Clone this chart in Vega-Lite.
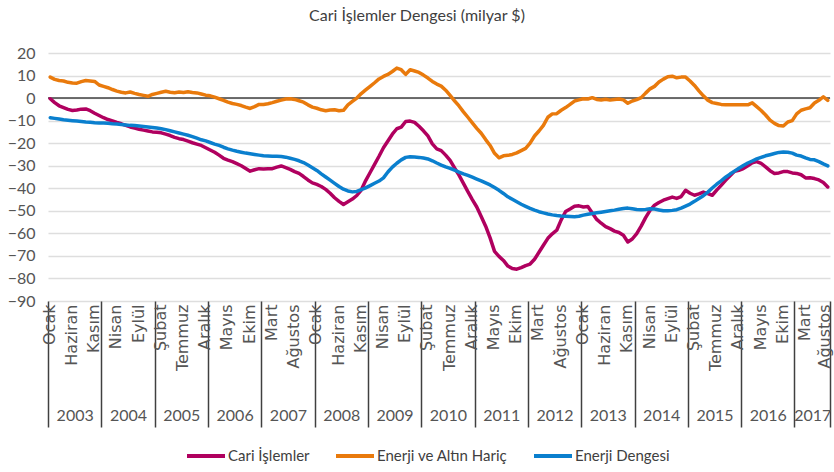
{
  "$schema": "https://vega.github.io/schema/vega-lite/v6.json",
  "width": 782,
  "height": 248,
  "autosize": "none",
  "padding": {"left": 48, "top": 53, "right": 4, "bottom": 171},
  "background": "white",
  "title": {
    "text": "Cari İşlemler Dengesi (milyar $)",
    "font": "Lato",
    "fontSize": 16,
    "fontWeight": "normal",
    "color": "#404040",
    "anchor": "middle",
    "offset": 21,
    "dx": -22
  },
  "datasets": {
    "yillar": [
      {"yil": "2003", "bas": -0.5, "orta": 5.5},
      {"yil": "2004", "bas": 11.5, "orta": 17.5},
      {"yil": "2005", "bas": 23.5, "orta": 29.5},
      {"yil": "2006", "bas": 35.5, "orta": 41.5},
      {"yil": "2007", "bas": 47.5, "orta": 53.5},
      {"yil": "2008", "bas": 59.5, "orta": 65.5},
      {"yil": "2009", "bas": 71.5, "orta": 77.5},
      {"yil": "2010", "bas": 83.5, "orta": 89.5},
      {"yil": "2011", "bas": 95.5, "orta": 101.5},
      {"yil": "2012", "bas": 107.5, "orta": 113.5},
      {"yil": "2013", "bas": 119.5, "orta": 125.5},
      {"yil": "2014", "bas": 131.5, "orta": 137.5},
      {"yil": "2015", "bas": 143.5, "orta": 149.5},
      {"yil": "2016", "bas": 155.5, "orta": 161.5},
      {"yil": "2017", "bas": 167.5, "orta": 171.5}
    ]
  },
  "config": {
    "view": {"stroke": null},
    "axis": {
      "labelFont": "Lato",
      "labelColor": "#555555",
      "title": null
    },
    "legend": {
      "title": null,
      "labelFont": "Lato",
      "labelFontSize": 15,
      "labelColor": "#404040",
      "symbolType": "stroke",
      "symbolSize": 1444,
      "symbolStrokeWidth": 4,
      "labelOffset": 1,
      "columnPadding": 18,
      "padding": 0
    }
  },
  "resolve": {"axis": {"x": "independent"}},
  "layer": [
    {
      "data": {"name": "yillar"},
      "mark": {"type": "rule", "strokeOpacity": 0},
      "encoding": {
        "x": {
          "field": "bas", "type": "quantitative",
          "scale": {"domain": [-0.5, 175.5], "nice": false, "zero": false},
          "axis": {
            "orient": "bottom",
            "values": [-0.5, 11.5, 23.5, 35.5, 47.5, 59.5, 71.5, 83.5, 95.5, 107.5, 119.5, 131.5, 143.5, 155.5, 167.5, 175.5],
            "labels": false, "grid": false, "domain": false,
            "ticks": true, "tickSize": 126, "tickColor": "#404040", "tickWidth": 1.5
          }
        }
      }
    },
    {
      "data": {"name": "yillar"},
      "mark": {"type": "rule", "strokeOpacity": 0},
      "encoding": {
        "x": {
          "field": "orta", "type": "quantitative",
          "scale": {"domain": [-0.5, 175.5], "nice": false, "zero": false},
          "axis": {
            "orient": "bottom",
            "values": [5.5, 17.5, 29.5, 41.5, 53.5, 65.5, 77.5, 89.5, 101.5, 113.5, 125.5, 137.5, 149.5, 161.5, 171.5],
            "labelExpr": "floor(datum.value / 12) + 2003",
            "labelFontSize": 16, "labelPadding": 106, "labelAngle": 0,
            "grid": false, "domain": false, "ticks": false
          }
        }
      }
    },
    {
      "data": {"values": [{"sifir": 0}]},
      "mark": {"type": "rule", "color": "#404040", "strokeWidth": 1.5},
      "encoding": {
        "y": {
          "field": "sifir", "type": "quantitative",
          "scale": {"domain": [-90, 20], "nice": false, "zero": false},
          "axis": {
            "values": [20, 10, 0, -10, -20, -30, -40, -50, -60, -70, -80, -90],
            "labelFontSize": 16, "labelPadding": 13,
            "grid": true, "gridColor": "#dedede", "gridWidth": 1.5,
            "domain": false, "ticks": false
          }
        }
      }
    },
    {
      "data": {"values": [
{"ay":0,"Cari İşlemler":-0.3,"Enerji ve Altın Hariç":9.3,"Enerji Dengesi":-8.7},
{"ay":1,"Cari İşlemler":-2.0,"Enerji ve Altın Hariç":8.3,"Enerji Dengesi":-9.0},
{"ay":2,"Cari İşlemler":-3.4,"Enerji ve Altın Hariç":7.8,"Enerji Dengesi":-9.3},
{"ay":3,"Cari İşlemler":-4.2,"Enerji ve Altın Hariç":7.6,"Enerji Dengesi":-9.6},
{"ay":4,"Cari İşlemler":-5.0,"Enerji ve Altın Hariç":7.0,"Enerji Dengesi":-9.8},
{"ay":5,"Cari İşlemler":-5.5,"Enerji ve Altın Hariç":6.7,"Enerji Dengesi":-10.0},
{"ay":6,"Cari İşlemler":-5.3,"Enerji ve Altın Hariç":6.6,"Enerji Dengesi":-10.2},
{"ay":7,"Cari İşlemler":-4.9,"Enerji ve Altın Hariç":7.3,"Enerji Dengesi":-10.4},
{"ay":8,"Cari İşlemler":-4.8,"Enerji ve Altın Hariç":7.8,"Enerji Dengesi":-10.6},
{"ay":9,"Cari İşlemler":-5.6,"Enerji ve Altın Hariç":7.6,"Enerji Dengesi":-10.7},
{"ay":10,"Cari İşlemler":-6.7,"Enerji ve Altın Hariç":7.4,"Enerji Dengesi":-10.9},
{"ay":11,"Cari İşlemler":-7.7,"Enerji ve Altın Hariç":5.8,"Enerji Dengesi":-11.0},
{"ay":12,"Cari İşlemler":-8.7,"Enerji ve Altın Hariç":5.2,"Enerji Dengesi":-11.1},
{"ay":13,"Cari İşlemler":-9.5,"Enerji ve Altın Hariç":4.6,"Enerji Dengesi":-11.2},
{"ay":14,"Cari İşlemler":-10.1,"Enerji ve Altın Hariç":3.8,"Enerji Dengesi":-11.4},
{"ay":15,"Cari İşlemler":-10.8,"Enerji ve Altın Hariç":3.1,"Enerji Dengesi":-11.5},
{"ay":16,"Cari İşlemler":-11.4,"Enerji ve Altın Hariç":2.6,"Enerji Dengesi":-11.7},
{"ay":17,"Cari İşlemler":-12.1,"Enerji ve Altın Hariç":2.3,"Enerji Dengesi":-11.9},
{"ay":18,"Cari İşlemler":-12.8,"Enerji ve Altın Hariç":2.7,"Enerji Dengesi":-12.1},
{"ay":19,"Cari İşlemler":-13.3,"Enerji ve Altın Hariç":2.1,"Enerji Dengesi":-12.2},
{"ay":20,"Cari İşlemler":-13.8,"Enerji ve Altın Hariç":1.6,"Enerji Dengesi":-12.4},
{"ay":21,"Cari İşlemler":-14.2,"Enerji ve Altın Hariç":1.2,"Enerji Dengesi":-12.6},
{"ay":22,"Cari İşlemler":-14.6,"Enerji ve Altın Hariç":0.8,"Enerji Dengesi":-12.8},
{"ay":23,"Cari İşlemler":-15.0,"Enerji ve Altın Hariç":1.6,"Enerji Dengesi":-13.0},
{"ay":24,"Cari İşlemler":-15.2,"Enerji ve Altın Hariç":2.1,"Enerji Dengesi":-13.3},
{"ay":25,"Cari İşlemler":-15.4,"Enerji ve Altın Hariç":2.6,"Enerji Dengesi":-13.6},
{"ay":26,"Cari İşlemler":-16.0,"Enerji ve Altın Hariç":3.0,"Enerji Dengesi":-14.0},
{"ay":27,"Cari İşlemler":-16.6,"Enerji ve Altın Hariç":2.6,"Enerji Dengesi":-14.5},
{"ay":28,"Cari İşlemler":-17.4,"Enerji ve Altın Hariç":2.4,"Enerji Dengesi":-15.0},
{"ay":29,"Cari İşlemler":-18.0,"Enerji ve Altın Hariç":2.7,"Enerji Dengesi":-15.5},
{"ay":30,"Cari İşlemler":-18.4,"Enerji ve Altın Hariç":2.5,"Enerji Dengesi":-16.0},
{"ay":31,"Cari İşlemler":-19.1,"Enerji ve Altın Hariç":2.8,"Enerji Dengesi":-16.5},
{"ay":32,"Cari İşlemler":-19.8,"Enerji ve Altın Hariç":2.5,"Enerji Dengesi":-17.1},
{"ay":33,"Cari İşlemler":-20.4,"Enerji ve Altın Hariç":2.3,"Enerji Dengesi":-17.8},
{"ay":34,"Cari İşlemler":-21.0,"Enerji ve Altın Hariç":1.8,"Enerji Dengesi":-18.5},
{"ay":35,"Cari İşlemler":-22.0,"Enerji ve Altın Hariç":1.3,"Enerji Dengesi":-19.0},
{"ay":36,"Cari İşlemler":-23.0,"Enerji ve Altın Hariç":1.0,"Enerji Dengesi":-19.7},
{"ay":37,"Cari İşlemler":-24.0,"Enerji ve Altın Hariç":0.4,"Enerji Dengesi":-20.4},
{"ay":38,"Cari İşlemler":-25.3,"Enerji ve Altın Hariç":-0.3,"Enerji Dengesi":-21.0},
{"ay":39,"Cari İşlemler":-26.7,"Enerji ve Altın Hariç":-1.0,"Enerji Dengesi":-21.8},
{"ay":40,"Cari İşlemler":-27.5,"Enerji ve Altın Hariç":-1.8,"Enerji Dengesi":-22.5},
{"ay":41,"Cari İşlemler":-28.2,"Enerji ve Altın Hariç":-2.4,"Enerji Dengesi":-23.1},
{"ay":42,"Cari İşlemler":-29.1,"Enerji ve Altın Hariç":-2.8,"Enerji Dengesi":-23.6},
{"ay":43,"Cari İşlemler":-30.0,"Enerji ve Altın Hariç":-3.3,"Enerji Dengesi":-24.0},
{"ay":44,"Cari İşlemler":-31.2,"Enerji ve Altın Hariç":-4.0,"Enerji Dengesi":-24.4},
{"ay":45,"Cari İşlemler":-32.4,"Enerji ve Altın Hariç":-4.6,"Enerji Dengesi":-24.7},
{"ay":46,"Cari İşlemler":-31.8,"Enerji ve Altın Hariç":-3.8,"Enerji Dengesi":-25.0},
{"ay":47,"Cari İşlemler":-31.3,"Enerji ve Altın Hariç":-2.8,"Enerji Dengesi":-25.3},
{"ay":48,"Cari İşlemler":-31.4,"Enerji ve Altın Hariç":-2.8,"Enerji Dengesi":-25.6},
{"ay":49,"Cari İşlemler":-31.3,"Enerji ve Altın Hariç":-2.5,"Enerji Dengesi":-25.7},
{"ay":50,"Cari İşlemler":-31.3,"Enerji ve Altın Hariç":-2.0,"Enerji Dengesi":-25.8},
{"ay":51,"Cari İşlemler":-30.6,"Enerji ve Altın Hariç":-1.4,"Enerji Dengesi":-25.8},
{"ay":52,"Cari İşlemler":-30.1,"Enerji ve Altın Hariç":-0.9,"Enerji Dengesi":-25.9},
{"ay":53,"Cari İşlemler":-30.8,"Enerji ve Altın Hariç":-0.4,"Enerji Dengesi":-26.2},
{"ay":54,"Cari İşlemler":-31.6,"Enerji ve Altın Hariç":-0.3,"Enerji Dengesi":-26.7},
{"ay":55,"Cari İşlemler":-32.6,"Enerji ve Altın Hariç":-0.6,"Enerji Dengesi":-27.2},
{"ay":56,"Cari İşlemler":-33.4,"Enerji ve Altın Hariç":-1.2,"Enerji Dengesi":-27.8},
{"ay":57,"Cari İşlemler":-34.8,"Enerji ve Altın Hariç":-1.8,"Enerji Dengesi":-28.6},
{"ay":58,"Cari İşlemler":-36.3,"Enerji ve Altın Hariç":-3.0,"Enerji Dengesi":-29.7},
{"ay":59,"Cari İşlemler":-37.6,"Enerji ve Altın Hariç":-4.0,"Enerji Dengesi":-30.9},
{"ay":60,"Cari İşlemler":-38.3,"Enerji ve Altın Hariç":-4.5,"Enerji Dengesi":-32.1},
{"ay":61,"Cari İşlemler":-39.2,"Enerji ve Altın Hariç":-5.2,"Enerji Dengesi":-33.6},
{"ay":62,"Cari İşlemler":-40.5,"Enerji ve Altın Hariç":-5.6,"Enerji Dengesi":-35.0},
{"ay":63,"Cari İşlemler":-42.2,"Enerji ve Altın Hariç":-5.3,"Enerji Dengesi":-36.4},
{"ay":64,"Cari İşlemler":-44.2,"Enerji ve Altın Hariç":-5.2,"Enerji Dengesi":-37.8},
{"ay":65,"Cari İşlemler":-45.8,"Enerji ve Altın Hariç":-5.6,"Enerji Dengesi":-39.2},
{"ay":66,"Cari İşlemler":-47.2,"Enerji ve Altın Hariç":-5.4,"Enerji Dengesi":-40.4},
{"ay":67,"Cari İşlemler":-46.0,"Enerji ve Altın Hariç":-3.0,"Enerji Dengesi":-41.2},
{"ay":68,"Cari İşlemler":-44.8,"Enerji ve Altın Hariç":-1.5,"Enerji Dengesi":-41.6},
{"ay":69,"Cari İşlemler":-43.2,"Enerji ve Altın Hariç":0.0,"Enerji Dengesi":-41.4},
{"ay":70,"Cari İşlemler":-40.8,"Enerji ve Altın Hariç":2.0,"Enerji Dengesi":-40.6},
{"ay":71,"Cari İşlemler":-36.6,"Enerji ve Altın Hariç":3.6,"Enerji Dengesi":-39.8},
{"ay":72,"Cari İşlemler":-33.0,"Enerji ve Altın Hariç":5.2,"Enerji Dengesi":-38.8},
{"ay":73,"Cari İşlemler":-29.4,"Enerji ve Altın Hariç":6.8,"Enerji Dengesi":-37.8},
{"ay":74,"Cari İşlemler":-25.8,"Enerji ve Altın Hariç":8.5,"Enerji Dengesi":-36.8},
{"ay":75,"Cari İşlemler":-22.0,"Enerji ve Altın Hariç":9.6,"Enerji Dengesi":-35.4},
{"ay":76,"Cari İşlemler":-19.0,"Enerji ve Altın Hariç":10.5,"Enerji Dengesi":-32.8},
{"ay":77,"Cari İşlemler":-16.0,"Enerji ve Altın Hariç":11.8,"Enerji Dengesi":-30.6},
{"ay":78,"Cari İşlemler":-13.6,"Enerji ve Altın Hariç":13.3,"Enerji Dengesi":-28.9},
{"ay":79,"Cari İşlemler":-12.9,"Enerji ve Altın Hariç":12.6,"Enerji Dengesi":-27.4},
{"ay":80,"Cari İşlemler":-10.4,"Enerji ve Altın Hariç":10.5,"Enerji Dengesi":-26.3},
{"ay":81,"Cari İşlemler":-10.2,"Enerji ve Altın Hariç":12.6,"Enerji Dengesi":-26.0},
{"ay":82,"Cari İşlemler":-10.8,"Enerji ve Altın Hariç":12.0,"Enerji Dengesi":-26.1},
{"ay":83,"Cari İşlemler":-12.5,"Enerji ve Altın Hariç":11.4,"Enerji Dengesi":-26.3},
{"ay":84,"Cari İşlemler":-14.5,"Enerji ve Altın Hariç":10.2,"Enerji Dengesi":-26.6},
{"ay":85,"Cari İşlemler":-16.8,"Enerji ve Altın Hariç":8.9,"Enerji Dengesi":-27.0},
{"ay":86,"Cari İşlemler":-20.3,"Enerji ve Altın Hariç":7.4,"Enerji Dengesi":-27.8},
{"ay":87,"Cari İşlemler":-22.5,"Enerji ve Altın Hariç":6.2,"Enerji Dengesi":-28.8},
{"ay":88,"Cari İşlemler":-23.3,"Enerji ve Altın Hariç":5.3,"Enerji Dengesi":-29.7},
{"ay":89,"Cari İşlemler":-25.3,"Enerji ve Altın Hariç":3.5,"Enerji Dengesi":-30.5},
{"ay":90,"Cari İşlemler":-27.6,"Enerji ve Altın Hariç":1.2,"Enerji Dengesi":-31.2},
{"ay":91,"Cari İşlemler":-31.0,"Enerji ve Altın Hariç":-1.2,"Enerji Dengesi":-32.0},
{"ay":92,"Cari İşlemler":-34.2,"Enerji ve Altın Hariç":-3.5,"Enerji Dengesi":-32.8},
{"ay":93,"Cari İşlemler":-37.8,"Enerji ve Altın Hariç":-6.1,"Enerji Dengesi":-33.6},
{"ay":94,"Cari İşlemler":-41.5,"Enerji ve Altın Hariç":-8.5,"Enerji Dengesi":-34.3},
{"ay":95,"Cari İşlemler":-45.0,"Enerji ve Altın Hariç":-11.0,"Enerji Dengesi":-35.1},
{"ay":96,"Cari İşlemler":-48.3,"Enerji ve Altın Hariç":-13.4,"Enerji Dengesi":-35.9},
{"ay":97,"Cari İşlemler":-52.5,"Enerji ve Altın Hariç":-15.6,"Enerji Dengesi":-36.7},
{"ay":98,"Cari İşlemler":-56.8,"Enerji ve Altın Hariç":-18.4,"Enerji Dengesi":-37.6},
{"ay":99,"Cari İşlemler":-62.0,"Enerji ve Altın Hariç":-21.0,"Enerji Dengesi":-38.5},
{"ay":100,"Cari İşlemler":-68.0,"Enerji ve Altın Hariç":-24.5,"Enerji Dengesi":-39.7},
{"ay":101,"Cari İşlemler":-70.2,"Enerji ve Altın Hariç":-26.5,"Enerji Dengesi":-40.9},
{"ay":102,"Cari İşlemler":-72.0,"Enerji ve Altın Hariç":-25.6,"Enerji Dengesi":-42.3},
{"ay":103,"Cari İşlemler":-74.5,"Enerji ve Altın Hariç":-25.4,"Enerji Dengesi":-43.8},
{"ay":104,"Cari İşlemler":-75.6,"Enerji ve Altın Hariç":-25.0,"Enerji Dengesi":-44.9},
{"ay":105,"Cari İşlemler":-75.9,"Enerji ve Altın Hariç":-24.3,"Enerji Dengesi":-46.0},
{"ay":106,"Cari İşlemler":-75.2,"Enerji ve Altın Hariç":-23.3,"Enerji Dengesi":-47.1},
{"ay":107,"Cari İşlemler":-74.3,"Enerji ve Altın Hariç":-22.3,"Enerji Dengesi":-48.0},
{"ay":108,"Cari İşlemler":-73.6,"Enerji ve Altın Hariç":-20.0,"Enerji Dengesi":-48.9},
{"ay":109,"Cari İşlemler":-71.5,"Enerji ve Altın Hariç":-16.8,"Enerji Dengesi":-49.7},
{"ay":110,"Cari İşlemler":-68.4,"Enerji ve Altın Hariç":-14.6,"Enerji Dengesi":-50.4},
{"ay":111,"Cari İşlemler":-65.3,"Enerji ve Altın Hariç":-12.1,"Enerji Dengesi":-50.9},
{"ay":112,"Cari İşlemler":-62.2,"Enerji ve Altın Hariç":-8.5,"Enerji Dengesi":-51.4},
{"ay":113,"Cari İşlemler":-60.2,"Enerji ve Altın Hariç":-7.0,"Enerji Dengesi":-51.8},
{"ay":114,"Cari İşlemler":-58.6,"Enerji ve Altın Hariç":-6.9,"Enerji Dengesi":-52.1},
{"ay":115,"Cari İşlemler":-54.0,"Enerji ve Altın Hariç":-5.4,"Enerji Dengesi":-52.3},
{"ay":116,"Cari İşlemler":-50.3,"Enerji ve Altın Hariç":-4.2,"Enerji Dengesi":-52.4},
{"ay":117,"Cari İşlemler":-49.2,"Enerji ve Altın Hariç":-2.8,"Enerji Dengesi":-52.5},
{"ay":118,"Cari İşlemler":-48.0,"Enerji ve Altın Hariç":-1.3,"Enerji Dengesi":-52.6},
{"ay":119,"Cari İşlemler":-47.8,"Enerji ve Altın Hariç":-0.8,"Enerji Dengesi":-52.4},
{"ay":120,"Cari İşlemler":-48.3,"Enerji ve Altın Hariç":-0.3,"Enerji Dengesi":-51.9},
{"ay":121,"Cari İşlemler":-48.1,"Enerji ve Altın Hariç":-0.4,"Enerji Dengesi":-51.5},
{"ay":122,"Cari İşlemler":-51.0,"Enerji ve Altın Hariç":0.2,"Enerji Dengesi":-51.2},
{"ay":123,"Cari İşlemler":-53.8,"Enerji ve Altın Hariç":-0.6,"Enerji Dengesi":-50.9},
{"ay":124,"Cari İşlemler":-55.5,"Enerji ve Altın Hariç":-0.8,"Enerji Dengesi":-50.6},
{"ay":125,"Cari İşlemler":-57.0,"Enerji ve Altın Hariç":-0.5,"Enerji Dengesi":-50.3},
{"ay":126,"Cari İşlemler":-57.9,"Enerji ve Altın Hariç":-0.9,"Enerji Dengesi":-50.0},
{"ay":127,"Cari İşlemler":-59.0,"Enerji ve Altın Hariç":-0.6,"Enerji Dengesi":-49.7},
{"ay":128,"Cari İşlemler":-59.6,"Enerji ve Altın Hariç":-0.4,"Enerji Dengesi":-49.3},
{"ay":129,"Cari İşlemler":-60.8,"Enerji ve Altın Hariç":-0.8,"Enerji Dengesi":-49.0},
{"ay":130,"Cari İşlemler":-63.8,"Enerji ve Altın Hariç":-2.3,"Enerji Dengesi":-48.8},
{"ay":131,"Cari İşlemler":-62.5,"Enerji ve Altın Hariç":-1.3,"Enerji Dengesi":-49.1},
{"ay":132,"Cari İşlemler":-60.1,"Enerji ve Altın Hariç":-0.7,"Enerji Dengesi":-49.4},
{"ay":133,"Cari İşlemler":-56.8,"Enerji ve Altın Hariç":0.2,"Enerji Dengesi":-49.5},
{"ay":134,"Cari İşlemler":-53.0,"Enerji ve Altın Hariç":2.2,"Enerji Dengesi":-49.4},
{"ay":135,"Cari İşlemler":-49.8,"Enerji ve Altın Hariç":4.1,"Enerji Dengesi":-49.1},
{"ay":136,"Cari İşlemler":-47.5,"Enerji ve Altın Hariç":5.2,"Enerji Dengesi":-49.2},
{"ay":137,"Cari İşlemler":-46.3,"Enerji ve Altın Hariç":7.1,"Enerji Dengesi":-49.6},
{"ay":138,"Cari İşlemler":-45.3,"Enerji ve Altın Hariç":8.4,"Enerji Dengesi":-50.0},
{"ay":139,"Cari İşlemler":-44.6,"Enerji ve Altın Hariç":9.5,"Enerji Dengesi":-50.0},
{"ay":140,"Cari İşlemler":-43.9,"Enerji ve Altın Hariç":9.7,"Enerji Dengesi":-49.8},
{"ay":141,"Cari İşlemler":-44.5,"Enerji ve Altın Hariç":9.0,"Enerji Dengesi":-49.5},
{"ay":142,"Cari İşlemler":-43.7,"Enerji ve Altın Hariç":9.3,"Enerji Dengesi":-48.8},
{"ay":143,"Cari İşlemler":-40.9,"Enerji ve Altın Hariç":9.3,"Enerji Dengesi":-47.9},
{"ay":144,"Cari İşlemler":-42.2,"Enerji ve Altın Hariç":7.6,"Enerji Dengesi":-47.0},
{"ay":145,"Cari İşlemler":-43.1,"Enerji ve Altın Hariç":5.6,"Enerji Dengesi":-45.8},
{"ay":146,"Cari İşlemler":-42.5,"Enerji ve Altın Hariç":3.2,"Enerji Dengesi":-44.5},
{"ay":147,"Cari İşlemler":-41.7,"Enerji ve Altın Hariç":1.0,"Enerji Dengesi":-43.3},
{"ay":148,"Cari İşlemler":-42.4,"Enerji ve Altın Hariç":-0.9,"Enerji Dengesi":-41.7},
{"ay":149,"Cari İşlemler":-43.1,"Enerji ve Altın Hariç":-2.0,"Enerji Dengesi":-39.9},
{"ay":150,"Cari İşlemler":-40.8,"Enerji ve Altın Hariç":-2.4,"Enerji Dengesi":-38.2},
{"ay":151,"Cari İşlemler":-38.7,"Enerji ve Altın Hariç":-2.8,"Enerji Dengesi":-36.7},
{"ay":152,"Cari İşlemler":-36.5,"Enerji ve Altın Hariç":-3.0,"Enerji Dengesi":-35.1},
{"ay":153,"Cari İşlemler":-34.5,"Enerji ve Altın Hariç":-3.0,"Enerji Dengesi":-33.7},
{"ay":154,"Cari İşlemler":-32.5,"Enerji ve Altın Hariç":-3.0,"Enerji Dengesi":-32.4},
{"ay":155,"Cari İşlemler":-32.0,"Enerji ve Altın Hariç":-3.0,"Enerji Dengesi":-31.1},
{"ay":156,"Cari İşlemler":-31.3,"Enerji ve Altın Hariç":-3.0,"Enerji Dengesi":-29.9},
{"ay":157,"Cari İşlemler":-30.0,"Enerji ve Altın Hariç":-3.0,"Enerji Dengesi":-28.8},
{"ay":158,"Cari İşlemler":-28.7,"Enerji ve Altın Hariç":-2.1,"Enerji Dengesi":-27.9},
{"ay":159,"Cari İşlemler":-28.2,"Enerji ve Altın Hariç":-3.8,"Enerji Dengesi":-27.0},
{"ay":160,"Cari İşlemler":-29.0,"Enerji ve Altın Hariç":-5.5,"Enerji Dengesi":-26.3},
{"ay":161,"Cari İşlemler":-30.5,"Enerji ve Altın Hariç":-7.5,"Enerji Dengesi":-25.6},
{"ay":162,"Cari İşlemler":-32.2,"Enerji ve Altın Hariç":-9.8,"Enerji Dengesi":-25.1},
{"ay":163,"Cari İşlemler":-33.4,"Enerji ve Altın Hariç":-11.2,"Enerji Dengesi":-24.6},
{"ay":164,"Cari İşlemler":-33.2,"Enerji ve Altın Hariç":-12.2,"Enerji Dengesi":-24.1},
{"ay":165,"Cari İşlemler":-32.6,"Enerji ve Altın Hariç":-12.4,"Enerji Dengesi":-23.9},
{"ay":166,"Cari İşlemler":-32.6,"Enerji ve Altın Hariç":-10.6,"Enerji Dengesi":-24.0},
{"ay":167,"Cari İşlemler":-33.2,"Enerji ve Altın Hariç":-10.0,"Enerji Dengesi":-24.4},
{"ay":168,"Cari İşlemler":-33.4,"Enerji ve Altın Hariç":-7.0,"Enerji Dengesi":-25.3},
{"ay":169,"Cari İşlemler":-34.0,"Enerji ve Altın Hariç":-5.4,"Enerji Dengesi":-25.7},
{"ay":170,"Cari İşlemler":-35.4,"Enerji ve Altın Hariç":-4.8,"Enerji Dengesi":-26.5},
{"ay":171,"Cari İşlemler":-35.3,"Enerji ve Altın Hariç":-4.3,"Enerji Dengesi":-27.2},
{"ay":172,"Cari İşlemler":-35.7,"Enerji ve Altın Hariç":-2.2,"Enerji Dengesi":-27.4},
{"ay":173,"Cari İşlemler":-36.3,"Enerji ve Altın Hariç":-1.0,"Enerji Dengesi":-28.2},
{"ay":174,"Cari İşlemler":-37.4,"Enerji ve Altın Hariç":0.6,"Enerji Dengesi":-29.2},
{"ay":175,"Cari İşlemler":-39.4,"Enerji ve Altın Hariç":-1.0,"Enerji Dengesi":-30.1}
      ]},
      "transform": [
        {"fold": ["Cari İşlemler", "Enerji ve Altın Hariç", "Enerji Dengesi"], "as": ["seri", "deger"]}
      ],
      "mark": {"type": "line", "strokeWidth": 3.5, "strokeJoin": "round", "strokeCap": "round"},
      "encoding": {
        "x": {
          "field": "ay", "type": "quantitative",
          "scale": {"domain": [-0.5, 175.5], "nice": false, "zero": false},
          "axis": {
            "orient": "bottom",
            "values": [0, 5, 10, 15, 20, 25, 30, 35, 40, 45, 50, 55, 60, 65, 70, 75, 80, 85, 90, 95, 100, 105, 110, 115, 120, 125, 130, 135, 140, 145, 150, 155, 160, 165, 170, 175],
            "labelExpr": "['Ocak','Şubat','Mart','Nisan','Mayıs','Haziran','Temmuz','Ağustos','Eylül','Ekim','Kasım','Aralık'][datum.value % 12]",
            "labelAngle": -90,
            "labelFont": "DejaVu Sans",
            "labelFontSize": 16,
            "labelPadding": 3,
            "labelOffset": {"condition": {"test": "datum.value == 175", "value": -3.5}, "value": -1},
            "labelOverlap": false,
            "labelBound": false,
            "grid": false, "domain": false, "ticks": false
          }
        },
        "y": {
          "field": "deger", "type": "quantitative",
          "scale": {"domain": [-90, 20], "nice": false, "zero": false},
          "axis": {
            "values": [20, 10, 0, -10, -20, -30, -40, -50, -60, -70, -80, -90],
            "labelFontSize": 16, "labelPadding": 13,
            "grid": true, "gridColor": "#dedede", "gridWidth": 1.5,
            "domain": false, "ticks": false
          }
        },
        "color": {
          "field": "seri", "type": "nominal",
          "scale": {
            "domain": ["Cari İşlemler", "Enerji ve Altın Hariç", "Enerji Dengesi"],
            "range": ["#B0005F", "#E97A0C", "#0A7FCE"]
          },
          "legend": {
            "orient": "none",
            "direction": "horizontal",
            "legendX": 137,
            "legendY": 382
          }
        }
      }
    }
  ]
}
